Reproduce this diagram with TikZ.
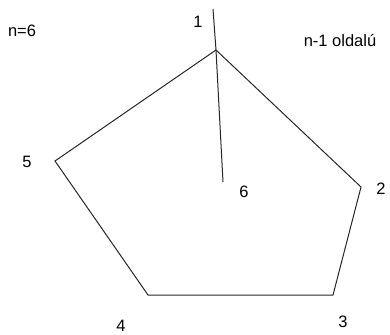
\documentclass[tikz,border=0pt]{standalone}
\usepackage{fontspec}
\setmainfont{Liberation Sans}
\begin{document}
\begin{tikzpicture}[x=1pt,y=-1pt,
  edge/.style={draw=black!85,line width=1pt},
  lbl/.style={inner sep=0pt,font=\fontsize{16.5}{18}\selectfont}]
\useasboundingbox (0,0) rectangle (390,334);
\coordinate (v1) at (216,50);
\coordinate (v2) at (361,187);
\coordinate (v3) at (333,295);
\coordinate (v4) at (148,295);
\coordinate (v5) at (55,161);
\coordinate (top) at (213,9);
\coordinate (bot) at (223,182);
\draw[edge] (v1) -- (v2) -- (v3) -- (v4) -- (v5) -- cycle;
\draw[edge] (top) -- (v1) -- (bot);
\node[lbl] (n) at (22,31) {n=6};
\node[lbl] (t) at (340,41) {n-1 oldalú};
\node[lbl] (l1) at (198,22) {1};
\node[lbl] (l2) at (381,189) {2};
\node[lbl] (l3) at (343,322) {3};
\node[lbl] (l4) at (121,325.5) {4};
\node[lbl] (l5) at (27,162) {5};
\node[lbl] (l6) at (244,192) {6};
\end{tikzpicture}
\end{document}
